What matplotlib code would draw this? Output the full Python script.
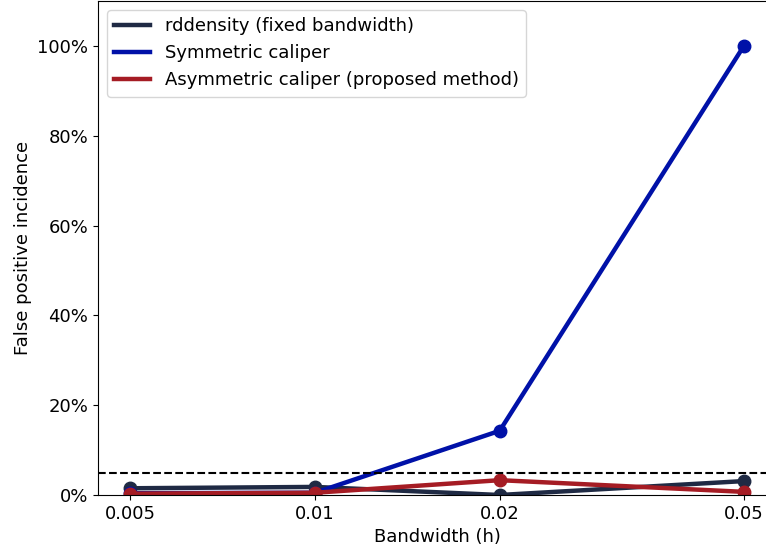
import matplotlib
matplotlib.use('Agg')
import matplotlib.pyplot as plt
from matplotlib.lines import Line2D
from matplotlib.ticker import FuncFormatter, FixedLocator, NullLocator

# Данные: частота ложноположительных результатов по ширине окна
bandwidths = [0.005, 0.01, 0.02, 0.05]
tick_labels = ['0.005', '0.01', '0.02', '0.05']
rddensity_vals = [0.015, 0.018, 0.0, 0.031]
symmetric_vals = [0.004, 0.005, 0.143, 1.0]
asymmetric_vals = [0.003, 0.005, 0.033, 0.007]
nominal_level = 0.05

series_labels = ['rddensity (fixed bandwidth)', 'Symmetric caliper',
                 'Asymmetric caliper (proposed method)']
series_colors = ['#1f2a44', '#0011a8', '#a51c24']

plt.rcParams['font.family'] = 'DejaVu Sans'

fig = plt.figure(figsize=(7.66, 5.52), dpi=100)
ax = fig.add_axes([98 / 766, 57 / 552, 678 / 766, 494 / 552])

handles = []
for vals, lab, col in zip([rddensity_vals, symmetric_vals, asymmetric_vals],
                          series_labels, series_colors):
    ax.plot(bandwidths, vals, color=col, linewidth=3.2, marker='o',
            markersize=9)
    handles.append(Line2D([], [], color=col, linewidth=3.2, label=lab))

ax.axhline(nominal_level, color='black', linestyle='--', linewidth=1.5)

ax.set_xscale('log')
ax.set_xlim(0.00443, 0.0564)
ax.xaxis.set_major_locator(FixedLocator(bandwidths))
ax.xaxis.set_minor_locator(NullLocator())
ax.set_xticklabels(tick_labels)
ax.set_ylim(0, 1.1)
ax.set_yticks([0, 0.2, 0.4, 0.6, 0.8, 1.0])
ax.yaxis.set_major_formatter(FuncFormatter(lambda y, p: f'{y * 100:.0f}%'))
ax.tick_params(labelsize=13)

ax.set_xlabel('Bandwidth (h)', fontsize=13)
ax.set_ylabel('False positive incidence', fontsize=13)

ax.legend(handles=handles, loc='upper left', fontsize=13)

fig.savefig('out.png', dpi=100)
